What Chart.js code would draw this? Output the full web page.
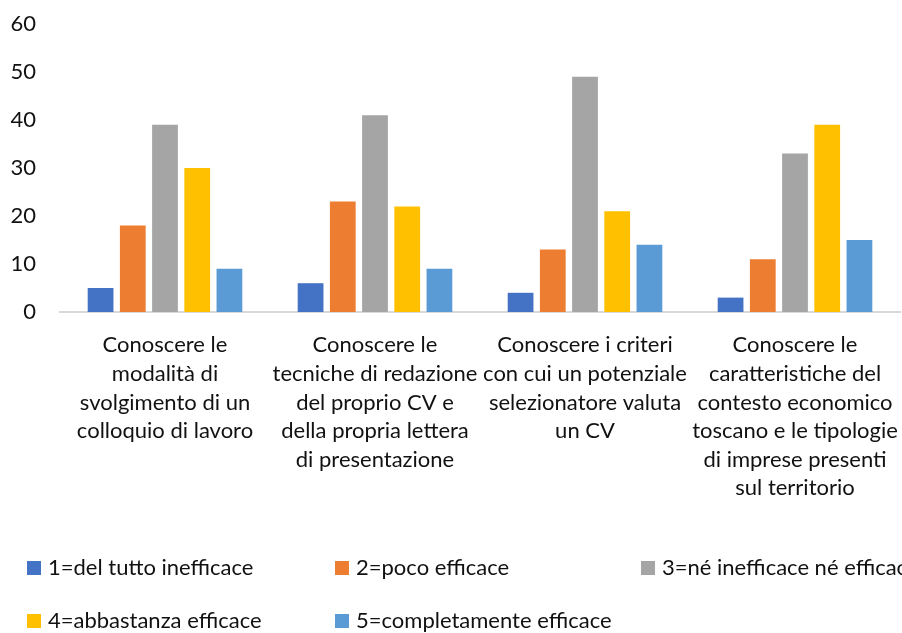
<!DOCTYPE html>
<html>
<head>
<meta charset="utf-8">
<script src="https://cdn.jsdelivr.net/npm/chart.js@4/dist/chart.umd.min.js"></script>
<style>
    body { margin: 0; background: #fff; }
    canvas { display: block; }
</style>
</head>
<body>
<canvas id="chart_efficacia" width="902" height="633"></canvas>
<script>
// categorie (etichette asse x, su più righe)
var categorie = [
    ['Conoscere le', 'modalità di', 'svolgimento di un', 'colloquio di lavoro'],
    ['Conoscere le', 'tecniche di redazione', 'del proprio CV e', 'della propria lettera', 'di presentazione'],
    ['Conoscere i criteri', 'con cui un potenziale', 'selezionatore valuta', 'un CV'],
    ['Conoscere le', 'caratteristiche del', 'contesto economico', 'toscano e le tipologie', 'di imprese presenti', 'sul territorio']
];

var voci = ['1=del tutto inefficace', '2=poco efficace', '3=né inefficace né efficace', '4=abbastanza efficace', '5=completamente efficace'];

var val_1 = [5, 6, 4, 3];
var val_2 = [18, 23, 13, 11];
var val_3 = [39, 41, 49, 33];
var val_4 = [30, 22, 21, 39];
var val_5 = [9, 9, 14, 15];

var colori = ['#4472C4', '#ED7D31', '#A5A5A5', '#FFC000', '#5B9BD5'];

var FONT = 'Lato, "Noto Sans", sans-serif';

// legenda disegnata a mano: due righe, colonne fisse
var legendaSotto = {
    id: 'legendaSotto',
    afterDraw(chart) {
        let ctx = chart.ctx;
        let colX = [27, 335, 641];
        let rowY = [568, 621];
        ctx.save();
        ctx.font = '22px ' + FONT;
        ctx.textBaseline = 'middle';
        ctx.textAlign = 'left';
        chart.data.datasets.forEach((ds, i) => {
            let x = colX[i % 3];
            let y = rowY[Math.floor(i / 3)];
            ctx.fillStyle = ds.backgroundColor;
            ctx.fillRect(x, y - 7, 14, 14);
            ctx.fillStyle = '#111';
            ctx.fillText(ds.label, x + 21, y);
        });
        ctx.restore();
    }
};

function makeDataset(i, data) {
    return {
        label: voci[i],
        data: data,
        backgroundColor: colori[i],
        categoryPercentage: 0.767,
        barPercentage: 0.8
    };
}

new Chart(document.getElementById('chart_efficacia').getContext('2d'), {
    type: 'bar',
    data: {
        labels: categorie,
        datasets: [
            makeDataset(0, val_1),
            makeDataset(1, val_2),
            makeDataset(2, val_3),
            makeDataset(3, val_4),
            makeDataset(4, val_5)
        ]
    },
    plugins: [legendaSotto],
    options: {
        responsive: false,
        animation: false,
        layout: { padding: { top: 24, right: 2, left: 0, bottom: 0 } },
        plugins: {
            legend: { display: false },
            tooltip: { enabled: false }
        },
        scales: {
            x: {
                grid: { display: false, drawTicks: false },
                border: { color: '#d9d9d9', width: 2 },
                ticks: {
                    autoSkip: false,
                    maxRotation: 0,
                    minRotation: 0,
                    padding: 19,
                    color: '#111',
                    font: { family: FONT, size: 22, lineHeight: 1.3 }
                },
                afterFit: (s) => {
                    s.height = 321;
                    s.paddingLeft = 0;
                    s.paddingRight = 0;
                }
            },
            y: {
                min: 0,
                max: 60,
                grid: { display: false, drawTicks: false },
                border: { display: false },
                ticks: {
                    stepSize: 10,
                    padding: 24,
                    color: '#111',
                    font: { family: FONT, size: 22 }
                },
                afterFit: (s) => {
                    s.width = 60;
                    s.paddingTop = 0;
                    s.paddingBottom = 0;
                }
            }
        }
    }
});
</script>
</body>
</html>
